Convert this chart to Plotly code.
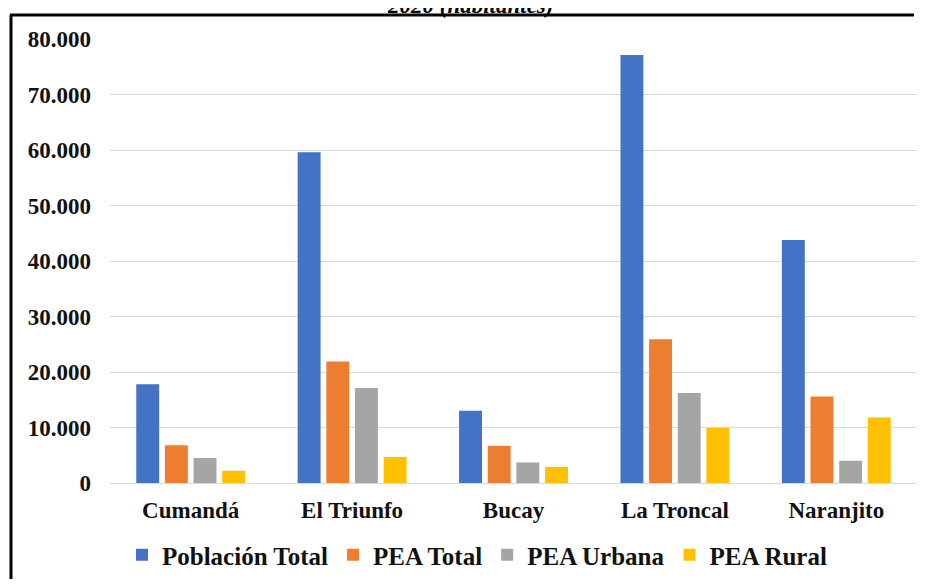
import plotly.graph_objects as go

cantones = ["Cumandá", "El Triunfo", "Bucay", "La Troncal", "Naranjito"]
poblacion_total = [17800, 59600, 13000, 77100, 43800]
pea_total = [6800, 21900, 6700, 25900, 15600]
pea_urbana = [4500, 17100, 3700, 16200, 4000]
pea_rural = [2200, 4700, 2900, 9900, 11800]

series_names = ["Población Total", "PEA Total", "PEA Urbana", "PEA Rural"]
series_values = [poblacion_total, pea_total, pea_urbana, pea_rural]
colors = ["#4472C4", "#ED7D31", "#A5A5A5", "#FFC000"]

tick_vals = [0, 10000, 20000, 30000, 40000, 50000, 60000, 70000, 80000]
tick_text = ["0", "10.000", "20.000", "30.000", "40.000", "50.000", "60.000", "70.000", "80.000"]

FONT = "'Liberation Serif', 'Times New Roman', 'DejaVu Serif', serif"

fig = go.Figure()
for name, vals, col in zip(series_names, series_values, colors):
    fig.add_trace(go.Bar(x=cantones, y=vals, name=name, marker=dict(color=col, line=dict(width=0))))

# page has an 8px body margin: figure coords = window coords - 8
OFF = 8
W, H = 925 - 2 * OFF, 587 - 2 * OFF
L, R, T, B = 110 - OFF, 0, 39 - OFF, 587 - 483 - OFF
pw, ph = W - L - R, H - T - B

def px_x(x):
    return (x - OFF - L) / pw

def px_y(y):
    return (H - B - (y - OFF)) / ph

fig.update_layout(
    width=W, height=H,
    margin=dict(l=L, r=R, t=T, b=B, autoexpand=False),
    paper_bgcolor="white", plot_bgcolor="white",
    barmode="group", bargap=0.29, bargroupgap=0.2,
    font=dict(family=FONT, color="#1a1a1a"),
    showlegend=True,
    legend=dict(
        orientation="h", x=px_x(477), xanchor="center", y=px_y(555), yanchor="middle",
        font=dict(family=FONT, size=25, color="#111111", weight="bold"),
        itemwidth=30, traceorder="normal", bgcolor="rgba(0,0,0,0)",
    ),
    xaxis=dict(
        showgrid=False, showline=True, linecolor="#d9d9d9", linewidth=1,
        ticks="", tickfont=dict(family=FONT, size=23, color="#111111", weight="bold"),
        ticklabelstandoff=6,
    ),
    yaxis=dict(
        range=[0, 80000], tickvals=tick_vals, ticktext=tick_text,
        showgrid=True, gridcolor="#d9d9d9", gridwidth=1, zeroline=False,
        showline=False, ticks="",
        tickfont=dict(family=FONT, size=23, color="#111111", weight="bold"),
        ticklabelstandoff=18,
    ),
    shapes=[
        dict(type="line", xref="paper", yref="paper",
             x0=px_x(11), x1=px_x(11), y0=px_y(600), y1=px_y(15),
             line=dict(color="black", width=3), layer="above"),
        dict(type="line", xref="paper", yref="paper",
             x0=px_x(10), x1=px_x(914), y0=px_y(15), y1=px_y(15),
             line=dict(color="black", width=3), layer="above"),
    ],
    annotations=[dict(
        text="<b><i>2020 (habitantes)</i></b>", xref="paper", yref="paper",
        x=px_x(470), y=px_y(20), xanchor="center", yanchor="bottom",
        showarrow=False, font=dict(family=FONT, size=23, color="black"),
    )],
)

fig.write_html("out.html")
